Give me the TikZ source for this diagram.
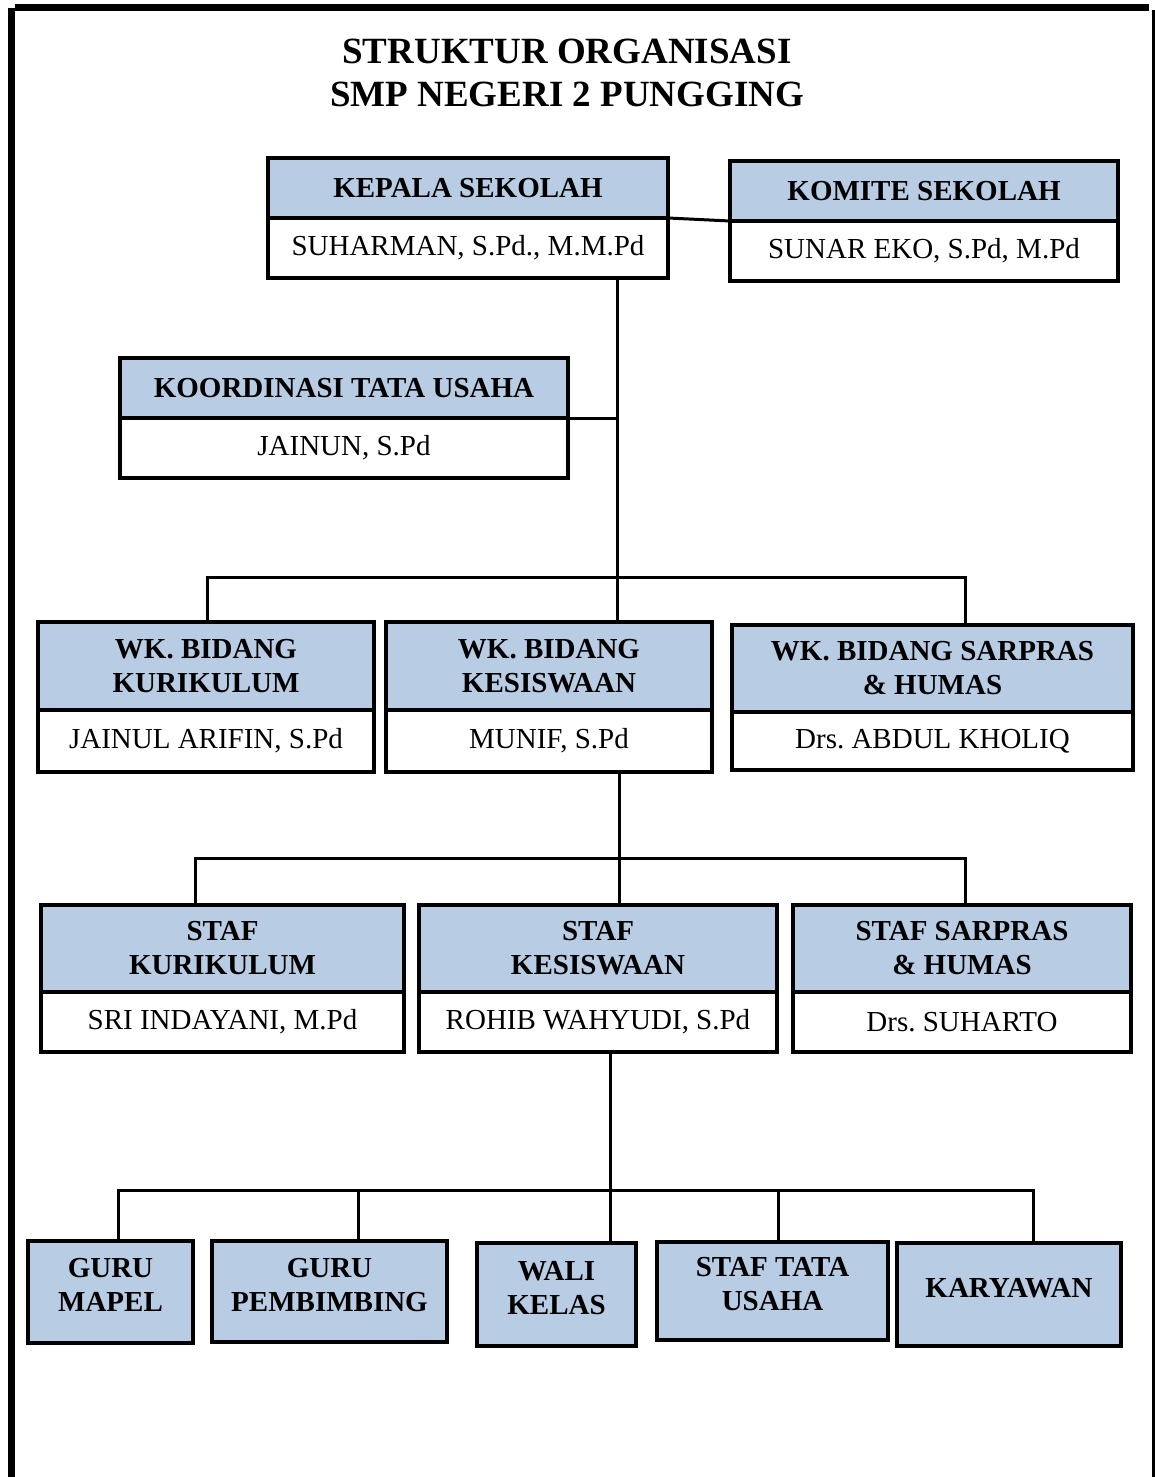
\documentclass[tikz,border=0pt]{standalone}
\usepackage{fontspec}
\setmainfont{Liberation Serif}
\usepackage{xcolor}
\usetikzlibrary{positioning}

\definecolor{headblue}{HTML}{B8CCE4}
\newcommand{\liftpad}{\rule[-14pt]{0pt}{14pt}}
\frenchspacing

\tikzset{
  posbox/.style={draw, line width=3.5, fill=headblue, outer sep=0pt, inner sep=0pt, align=center, font=\fontsize{29}{34}\selectfont\bfseries},
  personbox/.style={draw, line width=3.5, fill=white, outer sep=0pt, inner sep=0pt, align=center, minimum height=60, font=\fontsize{29}{34}\selectfont},
  conn/.style={line width=3},
}

\begin{document}
\begin{tikzpicture}[x=1pt, y=-1pt]
    \useasboundingbox (0,0) rectangle (1155,1477);
    % page frame
    \draw[line width=7] (11,8) -- (11,1477);
    \draw[line width=7] (15,8) -- (1149,8);
    \draw[line width=3] (1153,10) -- (1153,1477);

    \node[font=\fontsize{37}{43}\selectfont\bfseries, align=center] (title) at (567,73) {STRUKTUR ORGANISASI\\SMP NEGERI 2 PUNGGING};

    \node[posbox, minimum width=400, minimum height=60] (kepala) at (468,188) {KEPALA SEKOLAH};
    \node[personbox, minimum width=400, below=0pt of kepala] (kepalaP) {SUHARMAN, S.Pd., M.M.Pd};
    \node[posbox, minimum width=388, minimum height=60] (komite) at (924,191) {KOMITE SEKOLAH};
    \node[personbox, minimum width=388, below=0pt of komite] (komiteP) {SUNAR EKO, S.Pd, M.Pd};
    \node[posbox, minimum width=448, minimum height=60] (tu) at (344,388) {KOORDINASI TATA USAHA};
    \node[personbox, minimum width=448, below=0pt of tu] (tuP) {JAINUN, S.Pd};

    \node[posbox, minimum width=336, minimum height=88] (wkKur) at (206,666) {WK. BIDANG\\KURIKULUM};
    \node[personbox, minimum width=336, minimum height=62, below=0pt of wkKur] (wkKurP) {JAINUL ARIFIN, S.Pd};
    \node[posbox, minimum width=326, minimum height=88] (wkKes) at (549,666) {WK. BIDANG\\KESISWAAN};
    \node[personbox, minimum width=326, minimum height=62, below=0pt of wkKes] (wkKesP) {MUNIF, S.Pd};
    \node[posbox, minimum width=401, minimum height=87] (wkSar) at (932.5,668.5) {WK. BIDANG SARPRAS\\\& HUMAS};
    \node[personbox, minimum width=401, minimum height=58, below=0pt of wkSar] (wkSarP) {Drs. ABDUL KHOLIQ};

    \node[posbox, minimum width=363, minimum height=87] (stafKur) at (222.5,948.5) {STAF\\KURIKULUM};
    \node[personbox, minimum width=363, below=0pt of stafKur] (stafKurP) {SRI INDAYANI, M.Pd};
    \node[posbox, minimum width=358, minimum height=87] (stafKes) at (598,948.5) {STAF\\KESISWAAN};
    \node[personbox, minimum width=358, below=0pt of stafKes] (stafKesP) {ROHIB WAHYUDI, S.Pd};
    \node[posbox, minimum width=338, minimum height=87] (stafSar) at (962,948.5) {STAF SARPRAS\\\& HUMAS};
    \node[personbox, minimum width=338, below=0pt of stafSar] (stafSarP) {Drs. SUHARTO};

    \node[posbox, minimum width=165, minimum height=102] (mapel) at (110.5,1292) {GURU\\MAPEL\liftpad};
    \node[posbox, minimum width=235, minimum height=101] (pembimbing) at (329.5,1291.5) {GURU\\PEMBIMBING\liftpad};
    \node[posbox, minimum width=159, minimum height=103] (wali) at (556.5,1294.5) {WALI\\KELAS\liftpad};
    \node[posbox, minimum width=231, minimum height=98] (stafTU) at (772.5,1291) {STAF TATA\\USAHA\liftpad};
    \node[posbox, minimum width=224, minimum height=103] (karyawan) at (1009,1294.5) {KARYAWAN\liftpad};

    % kepala sekolah level
    \coordinate (t1) at (617,577);
    \coordinate (b1) at (207,577);
    \coordinate (b2) at (965,577);
    \draw[conn] (kepala.south east) -- (komite.south west);
    \draw[conn] (kepalaP.south -| t1) -- (wkKes.north -| t1);
    \draw[conn] (tu.south east) -- (tu.south east -| t1);
    \draw[conn] (wkKur.north -| b1) -- (b1) -- (b2) -- (wkSar.north -| b2);

    % wakil level
    \coordinate (t2) at (619,858);
    \coordinate (c1) at (195,858);
    \coordinate (c2) at (965,858);
    \draw[conn] (wkKesP.south -| t2) -- (stafKes.north -| t2);
    \draw[conn] (stafKur.north -| c1) -- (c1) -- (c2) -- (stafSar.north -| c2);

    % staf level
    \coordinate (t3) at (610,1190);
    \coordinate (d1) at (118,1190);
    \coordinate (d2) at (358,1190);
    \coordinate (d4) at (778,1190);
    \coordinate (d5) at (1033,1190);
    \draw[conn] (stafKesP.south -| t3) -- (wali.north -| t3);
    \draw[conn] (mapel.north -| d1) -- (d1) -- (d5) -- (karyawan.north -| d5);
    \draw[conn] (pembimbing.north -| d2) -- (d2);
    \draw[conn] (stafTU.north -| d4) -- (d4);
\end{tikzpicture}
\end{document}
